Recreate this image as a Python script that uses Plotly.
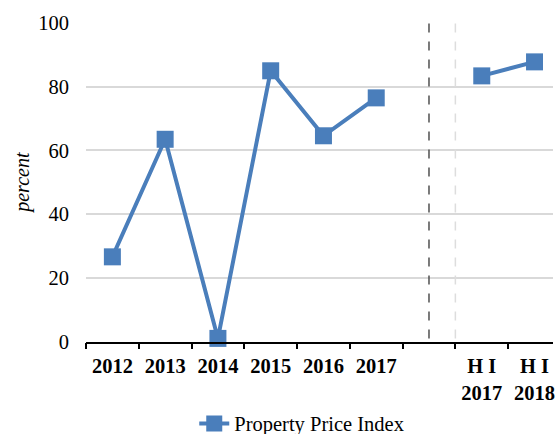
import plotly.graph_objects as go

categories = ["2012", "2013", "2014", "2015", "2016", "2017", "", "H I<br>2017", "H I<br>2018"]
values = [26.6, 63.5, 1.0, 85.0, 64.6, 76.5, None, 83.4, 87.8]
y_ticks = [0, 20, 40, 60, 80, 100]

x_idx = list(range(len(categories)))
blue = "#4A7EBB"
serif = "Liberation Serif, Times New Roman, serif"

fig = go.Figure()
fig.add_trace(go.Scatter(
    x=x_idx, y=values, mode="lines+markers", name="Property Price Index",
    line=dict(color=blue, width=4),
    marker=dict(symbol="square", size=17, color=blue),
    connectgaps=False, cliponaxis=False,
))

# vertical dashed separators
fig.add_shape(type="line", xref="x", yref="paper", x0=6, x1=6, y0=0.01, y1=1.0,
              line=dict(color="#505050", width=1.5, dash="dash"))
fig.add_shape(type="line", xref="x", yref="paper", x0=6.5, x1=6.5, y0=0.01, y1=1.0,
              line=dict(color="#DDDDDD", width=1.5, dash="dash"))

fig.update_layout(
    width=555, height=434,
    margin=dict(l=86, r=0, t=23, b=92),
    paper_bgcolor="white", plot_bgcolor="white",
    font=dict(family=serif, size=20.5, color="black"),
    showlegend=True,
    legend=dict(orientation="h", xref="container", yref="container",
                x=0.35, xanchor="left", y=0.024, yanchor="middle",
                font=dict(size=20.5, family=serif)),
    xaxis=dict(
        range=[-0.5, 8.35], tickmode="array", tickvals=x_idx, ticktext=[f"<b>{c}</b>" for c in categories],
        ticks="", showgrid=False, zeroline=False,
        showline=True, linecolor="black", linewidth=1.5,
        tickfont=dict(size=20.5, family=serif),
        ticklabeloverflow="allow", ticklabelstandoff=5,
        minor=dict(tickmode="array", tickvals=[i - 0.5 for i in range(10)],
                   ticks="outside", ticklen=6, tickwidth=1.5, tickcolor="black", showgrid=False),
    ),
    yaxis=dict(
        range=[0, 100], tickmode="array", tickvals=y_ticks,
        showgrid=True, gridcolor="#D9D9D9", gridwidth=1.5,
        zeroline=False, showline=False, ticks="",
        ticklabelstandoff=16,
        tickfont=dict(size=20.5, family=serif),
    ),
    annotations=[dict(text="<i>percent</i>", xref="paper", yref="paper",
                      x=-0.136, y=0.5, textangle=-90, showarrow=False,
                      xanchor="center", yanchor="middle",
                      font=dict(size=20, family=serif))],
)

fig.write_html("out.html", config={"displayModeBar": False},
               post_script="document.body.style.margin='0';")
